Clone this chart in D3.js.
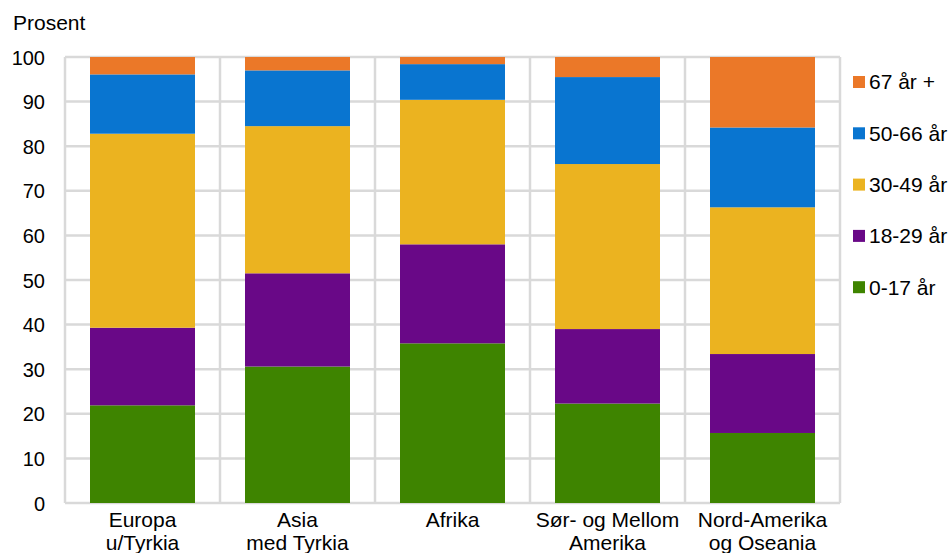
<!DOCTYPE html>
<html><head><meta charset="utf-8">
<script src="https://cdn.jsdelivr.net/npm/d3@7"></script>
<style>body{margin:0;background:#fff;} text{font-family:"Liberation Sans",Arial,sans-serif;fill:#000;}</style>
</head><body><svg id="c" width="951" height="553"></svg>
<script>
const categories = [["Europa","u/Tyrkia"],["Asia","med Tyrkia"],["Afrika"],["Sør- og Mellom","Amerika"],["Nord-Amerika","og Oseania"]];
const seriesNames = ["0-17 år","18-29 år","30-49 år","50-66 år","67 år +"];
const s0_17 = [21.9, 30.6, 35.8, 22.3, 15.7];
const s18_29 = [17.4, 20.9, 22.2, 16.7, 17.7];
const s30_49 = [43.5, 33.0, 32.4, 37.0, 32.9];
const s50_66 = [13.3, 12.5, 8.0, 19.5, 17.9];
const s67 = [3.9, 3.0, 1.6, 4.5, 15.8];
const colors = ["#3e8400","#690887","#ebb320","#0975d0","#eb7828"];
const yTicks = [0,10,20,30,40,50,60,70,80,90,100];

const svg = d3.select("#c");
const L=65, R=840, T=57, B=503;
const keys = categories.map((c,i)=>"c"+i);
const x = d3.scaleBand().domain(keys).range([L,R]).paddingInner(0).paddingOuter(0);
const y = d3.scaleLinear().domain([0,100]).range([B,T]);
const grid = "#d9d9d9";

// horizontal grid
svg.append("g").selectAll("line").data(yTicks).join("line")
  .attr("x1",L).attr("x2",R).attr("y1",d=>y(d)).attr("y2",d=>y(d))
  .attr("stroke",grid).attr("stroke-width",2.5);
// vertical grid (category separators)
const seps = keys.map(k=>x(k)).concat([R]);
svg.append("g").selectAll("line").data(seps).join("line")
  .attr("x1",d=>d).attr("x2",d=>d).attr("y1",T).attr("y2",B)
  .attr("stroke",grid).attr("stroke-width",2.5);

const rows = keys.map((k,i)=>({key:k, a:s0_17[i], b:s18_29[i], c:s30_49[i], d:s50_66[i], e:s67[i]}));
const stack = d3.stack().keys(["a","b","c","d","e"])(rows);
const bw = x.bandwidth()*105/155;
const off = (x.bandwidth()-bw)/2;
svg.append("g").selectAll("g").data(stack).join("g")
  .attr("fill",(d,i)=>colors[i])
  .selectAll("rect").data(d=>d).join("rect")
  .attr("x",d=>x(d.data.key)+off).attr("width",bw)
  .attr("y",d=>y(Math.min(100,d[1]))).attr("height",d=>y(d[0])-y(Math.min(100,d[1])));

// y axis
const ya = d3.axisLeft(y).tickValues(yTicks).tickSize(0).tickPadding(0);
const yg = svg.append("g").attr("transform",`translate(${L-20},0)`).call(ya);
yg.select(".domain").remove();
yg.selectAll("text").attr("font-size",20).attr("dy","0.35em").style("font-family","Liberation Sans, Arial, sans-serif").attr("fill","#000");

svg.append("text").attr("x",13).attr("y",30).attr("font-size",21).text("Prosent");

// x labels
const xl = svg.append("g");
categories.forEach((lines,i)=>{
  const t = xl.append("text").attr("x",x(keys[i])+x.bandwidth()/2).attr("y",527)
    .attr("text-anchor","middle").attr("font-size",21);
  lines.forEach((ln,j)=>t.append("tspan").attr("x",x(keys[i])+x.bandwidth()/2).attr("dy",j===0?0:23).text(ln));
});

// legend
const leg = svg.append("g");
const legOrder = [4,3,2,1,0];
legOrder.forEach((si,j)=>{
  const cy = 82 + j*51.3;
  leg.append("rect").attr("x",853).attr("y",cy-6).attr("width",12).attr("height",12).attr("fill",colors[si]);
  leg.append("text").attr("x",869).attr("y",cy).attr("dy","0.35em").attr("font-size",21).text(seriesNames[si]);
});
</script></body></html>
